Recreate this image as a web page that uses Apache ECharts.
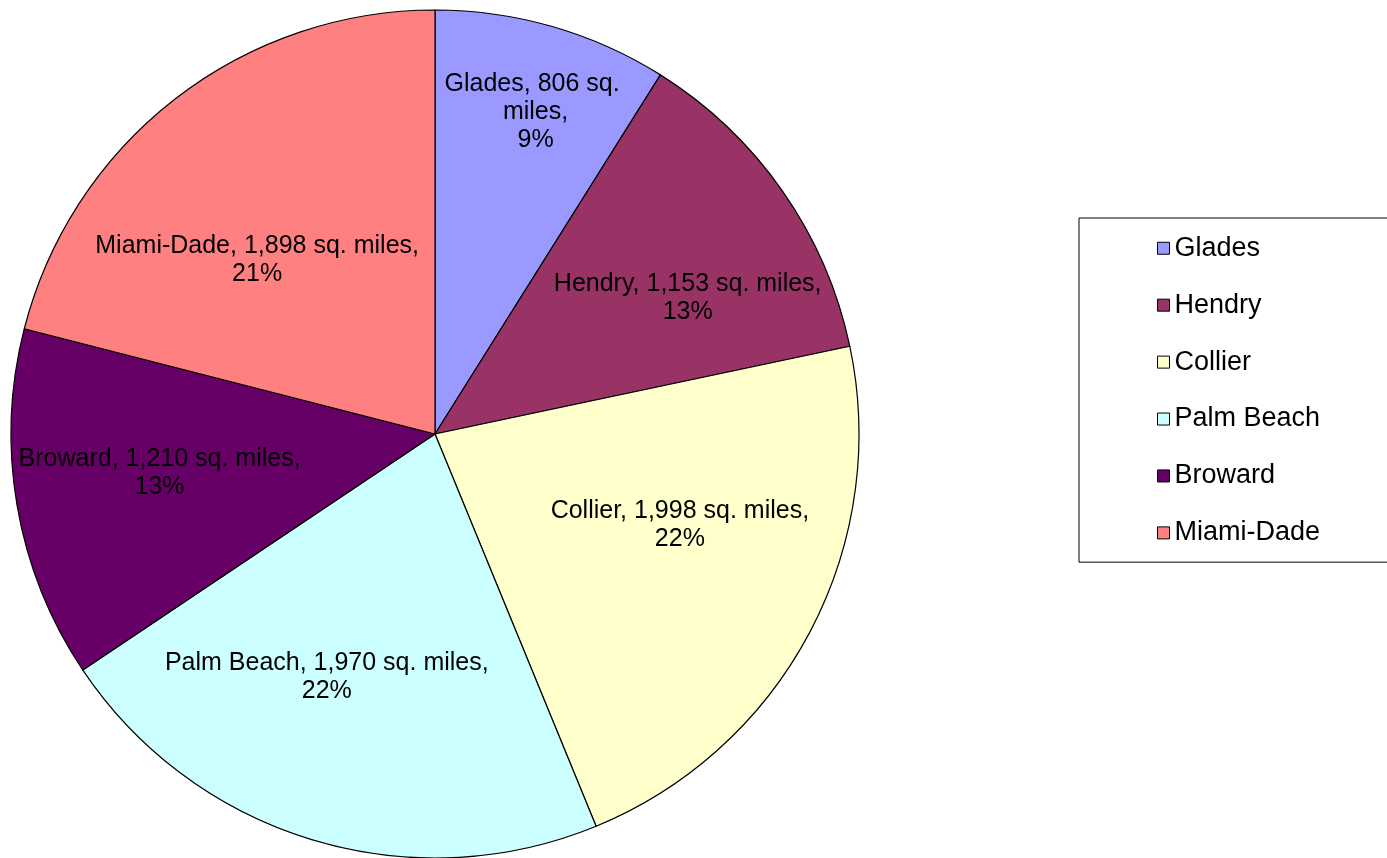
<!DOCTYPE html>
<title>county areas</title>
<style>
body {
    margin: 0;
    background: #fff;
}
#echart {
    height: 858px;
    width: 1387px;
}
</style>
<div id='echart'></div>
<script src='https://cdn.jsdelivr.net/npm/echarts@6.0.0/dist/echarts.min.js'></script>
<script>
let counties = ['Glades', 'Hendry', 'Collier', 'Palm Beach', 'Broward', 'Miami-Dade']
let areas = [806, 1153, 1998, 1970, 1210, 1898]
let colors = ['#9999ff', '#993366', '#ffffcc', '#ccffff', '#660066', '#ff8080']

let CENTER = [435, 434]
let RADIUS = 424
// where Excel put each label: fraction of radius, degrees off the slice middle
let LABEL_SPOT = [[0.795, 1.3], [0.677, 6.6], [0.616, -7.5], [0.627, 7.1], [0.656, 1.7], [0.587, -7.8]]

let total = areas.reduce((a, b) => a + b, 0)
let mids = []
let running = 0
for (let v of areas) {
    mids.push((running + v / 2) / total * 360)
    running += v
}

let echart = echarts.init(document.querySelector('#echart'))
let data = counties.map((name, i) => {
    let item = {name, value: areas[i], itemStyle: {color: colors[i]}}
    if (i == 0) item.label = {width: 195, overflow: 'break'}
    return item
})
let option = {
    animation: false,
    textStyle: {fontFamily: 'Liberation Sans, Arial, sans-serif'},
    legend: {
        orient: 'vertical',
        left: 1079,
        top: 218,
        padding: [7, 110, 6, 78],
        itemGap: 10.4,
        itemWidth: 12,
        itemHeight: 12,
        icon: 'rect',
        borderColor: '#000',
        borderWidth: 1,
        itemStyle: {borderColor: '#000', borderWidth: 1},
        textStyle: {fontSize: 27, lineHeight: 30, color: '#000', fontFamily: 'Liberation Sans, Arial, sans-serif'},
        data: counties,
    },
    series: [{
        type: 'pie',
        center: CENTER,
        radius: RADIUS,
        startAngle: 90,
        clockwise: true,
        data,
        itemStyle: {borderColor: '#000', borderWidth: 1.2},
        emphasis: {disabled: true},
        label: {
            show: true,
            position: 'inside',
            color: '#000',
            fontSize: 25,
            lineHeight: 28,
            align: 'center',
            fontFamily: 'Liberation Sans, Arial, sans-serif',
            formatter: p => `${p.name}, ${p.value.toLocaleString('en-US')} sq. miles,\n${Math.round(p.percent)}%`,
        },
        labelLine: {show: false},
        labelLayout: function (params) {
            let i = params.dataIndex
            let a = (mids[i] + LABEL_SPOT[i][1]) * Math.PI / 180
            let r = LABEL_SPOT[i][0] * RADIUS
            return {
                x: CENTER[0] + r * Math.sin(a),
                y: CENTER[1] - r * Math.cos(a),
                align: 'center',
                verticalAlign: 'middle',
            }
        },
    }],
}
echart.setOption(option)
</script>
